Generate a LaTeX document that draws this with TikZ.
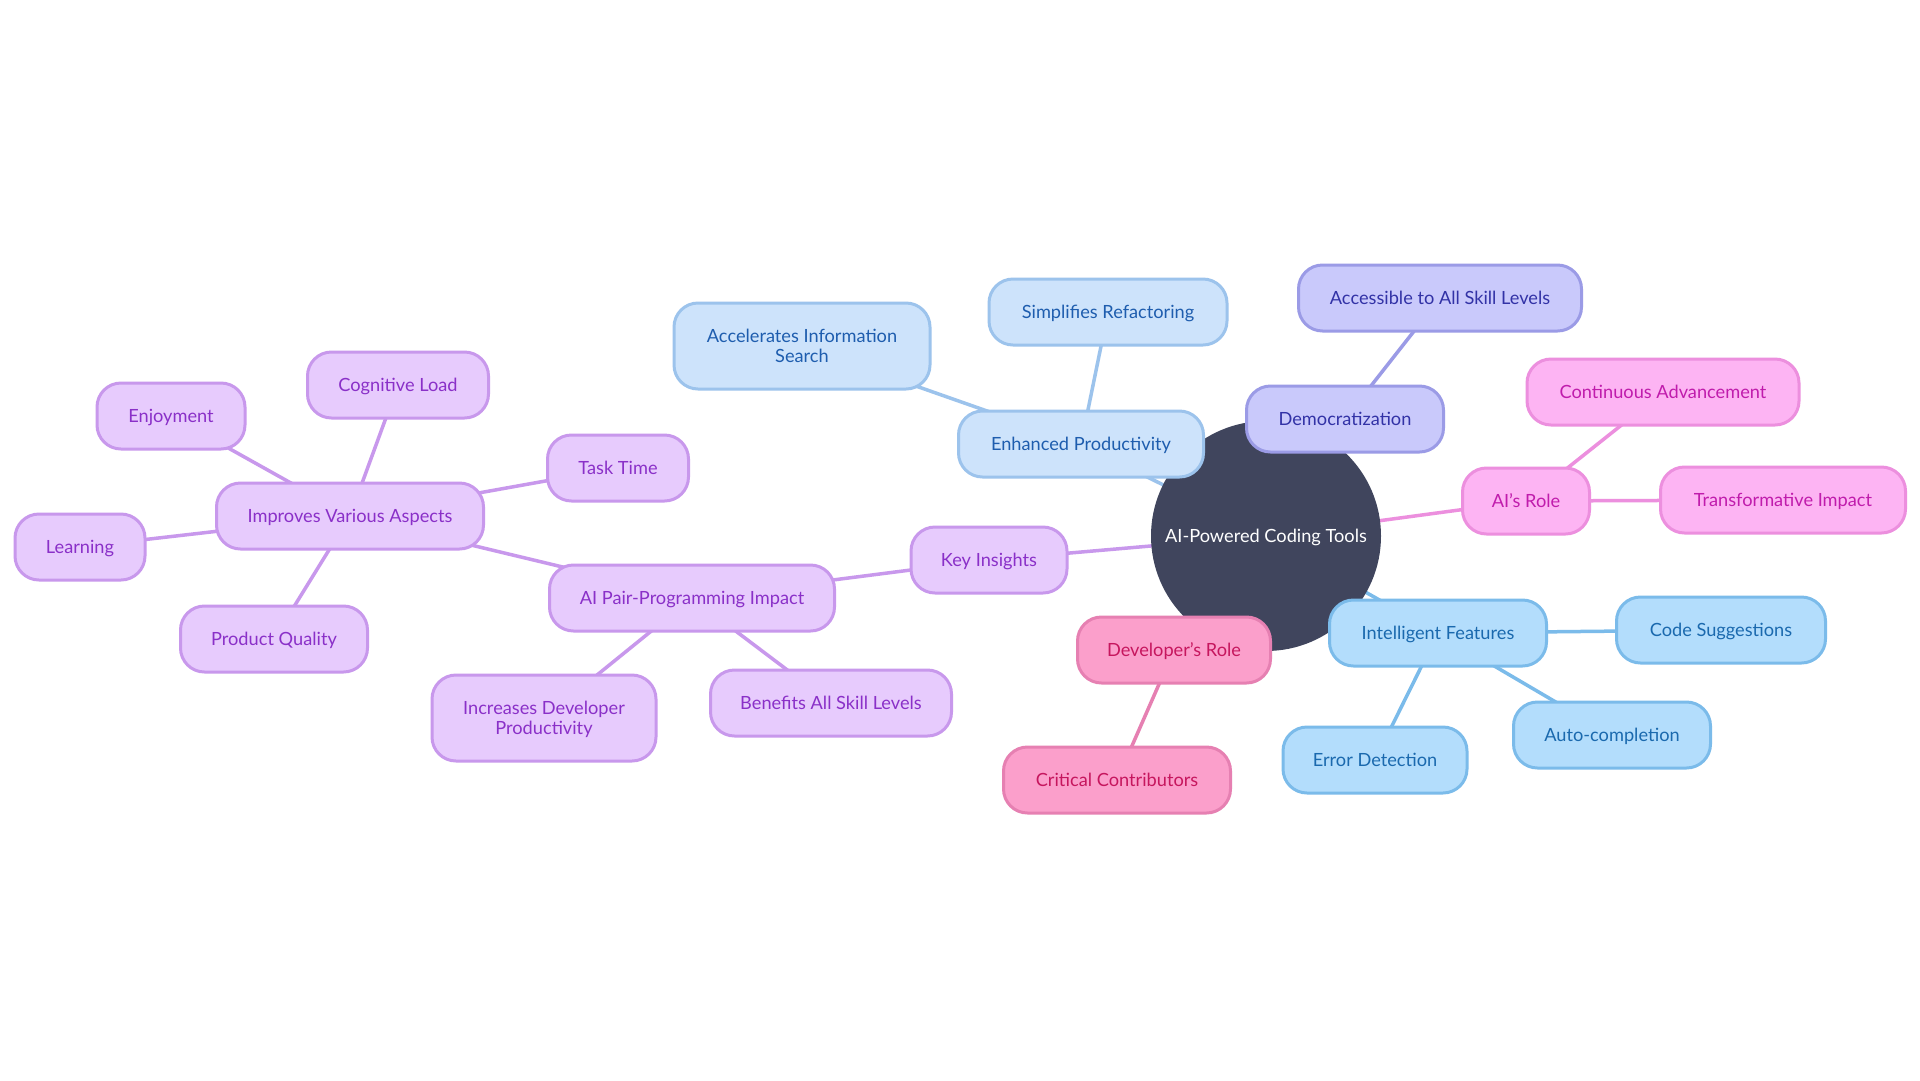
\documentclass[tikz,border=0pt]{standalone}
\usepackage{fontspec}
\setmainfont{Lato}
\usetikzlibrary{backgrounds}
\definecolor{purF}{HTML}{E7CBFD}
\definecolor{purD}{HTML}{C898EC}
\definecolor{purT}{HTML}{8A30C8}
\definecolor{bluF}{HTML}{CDE3FB}
\definecolor{bluD}{HTML}{9CC3EC}
\definecolor{bluT}{HTML}{1E5DAE}
\definecolor{lavF}{HTML}{C9C9FB}
\definecolor{lavD}{HTML}{9B9BE6}
\definecolor{lavT}{HTML}{3232A6}
\definecolor{pnkF}{HTML}{FDB4F3}
\definecolor{pnkD}{HTML}{EC8FDE}
\definecolor{pnkT}{HTML}{C01CAC}
\definecolor{skyF}{HTML}{B3DDFC}
\definecolor{skyD}{HTML}{7BBBEA}
\definecolor{skyT}{HTML}{1A69AE}
\definecolor{rosF}{HTML}{FB9FCB}
\definecolor{rosD}{HTML}{E680B2}
\definecolor{rosT}{HTML}{C6165E}
\definecolor{ctrF}{HTML}{40455D}
\begin{document}
\begin{tikzpicture}[x=1pt,y=-1pt,
  box/.style={rounded corners=24pt, line width=3pt, minimum height=66pt, inner xsep=0pt, inner ysep=0pt, text depth=0pt, align=center, font=\fontsize{18.2}{20.5}\selectfont},
  pur/.style={box, fill=purF, draw=purD, text=purT},
  blu/.style={box, fill=bluF, draw=bluD, text=bluT},
  lav/.style={box, fill=lavF, draw=lavD, text=lavT},
  pnk/.style={box, fill=pnkF, draw=pnkD, text=pnkT},
  sky/.style={box, fill=skyF, draw=skyD, text=skyT},
  ros/.style={box, fill=rosF, draw=rosD, text=rosT},
  epur/.style={draw=purD, line width=3.5pt},
  eblu/.style={draw=bluD, line width=3.5pt},
  elav/.style={draw=lavD, line width=3.5pt},
  epnk/.style={draw=pnkD, line width=3.5pt},
  esky/.style={draw=skyD, line width=3.5pt},
  eros/.style={draw=rosD, line width=3.5pt}]
\begin{scope}[on background layer]
\fill[white] (0,0) rectangle (1920,1080);
\end{scope}
\useasboundingbox (0,0) rectangle (1920,1080);

\node[circle, fill=ctrF, minimum size=230pt, inner sep=0pt, text=white, text depth=0pt, font=\fontsize{18.2}{20.5}\selectfont] (ctr) at (1266,536) {AI-Powered Coding Tools};

% blue branch
\node[blu, minimum width=245pt] (ep) at (1081,444) {Enhanced Productivity};
\node[blu, minimum width=238pt] (sr) at (1108,312) {Simplifies Refactoring};
\node[blu, minimum width=256pt, minimum height=86pt] (ais) at (802,346) {Accelerates Information\\Search};
% lavender branch
\node[lav, minimum width=197pt] (dem) at (1345,419) {Democratization};
\node[lav, minimum width=283pt] (acc) at (1440,298) {Accessible to All Skill Levels};
% pink branch
\node[pnk, minimum width=127pt] (air) at (1526,501) {AI's Role};
\node[pnk, minimum width=272pt] (ca) at (1663,392) {Continuous Advancement};
\node[pnk, minimum width=245pt] (ti) at (1783,500) {Transformative Impact};
% sky branch
\node[sky, minimum width=217pt] (if) at (1438,633) {Intelligent Features};
\node[sky, minimum width=209pt] (cs) at (1721,630) {Code Suggestions};
\node[sky, minimum width=197pt] (ac) at (1612,735) {Auto-completion};
\node[sky, minimum width=184pt] (ed) at (1375,760) {Error Detection};
% rose branch
\node[ros, minimum width=193pt] (dr) at (1174,650) {Developer's Role};
\node[ros, minimum width=227pt] (cc) at (1117,780) {Critical Contributors};
% purple branch
\node[pur, minimum width=156pt] (ki) at (989,560) {Key Insights};
\node[pur, minimum width=285pt] (ppi) at (692,598) {AI Pair-Programming Impact};
\node[pur, minimum width=224pt, minimum height=86pt] (idp) at (544,718) {Increases Developer\\Productivity};
\node[pur, minimum width=241pt] (bas) at (831,703) {Benefits All Skill Levels};
\node[pur, minimum width=267pt] (iva) at (350,516) {Improves Various Aspects};
\node[pur, minimum width=141pt] (tt) at (618,468) {Task Time};
\node[pur, minimum width=181pt] (cl) at (398,385) {Cognitive Load};
\node[pur, minimum width=148pt] (enj) at (171,416) {Enjoyment};
\node[pur, minimum width=130pt] (lrn) at (80,547) {Learning};
\node[pur, minimum width=187pt] (pq) at (274,639) {Product Quality};

\begin{scope}[on background layer]
\draw[eblu] (ctr.center) -- (ep.center);
\draw[eblu] (ep.center) -- (sr.center);
\draw[eblu] (ep.center) -- (ais.center);
\draw[elav] (ctr.center) -- (dem.center);
\draw[elav] (dem.center) -- (acc.center);
\draw[epnk] (ctr.center) -- (air.center);
\draw[epnk] (air.center) -- (ca.center);
\draw[epnk] (air.center) -- (ti.center);
\draw[esky] (ctr.center) -- (if.center);
\draw[esky] (if.center) -- (cs.center);
\draw[esky] (if.center) -- (ac.center);
\draw[esky] (if.center) -- (ed.center);
\draw[eros] (ctr.center) -- (dr.center);
\draw[eros] (dr.center) -- (cc.center);
\draw[epur] (ctr.center) -- (ki.center);
\draw[epur] (ki.center) -- (ppi.center);
\draw[epur] (ppi.center) -- (idp.center);
\draw[epur] (ppi.center) -- (bas.center);
\draw[epur] (ppi.center) -- (iva.center);
\draw[epur] (iva.center) -- (tt.center);
\draw[epur] (iva.center) -- (cl.center);
\draw[epur] (iva.center) -- (enj.center);
\draw[epur] (iva.center) -- (lrn.center);
\draw[epur] (iva.center) -- (pq.center);
\end{scope}
\end{tikzpicture}
\end{document}
